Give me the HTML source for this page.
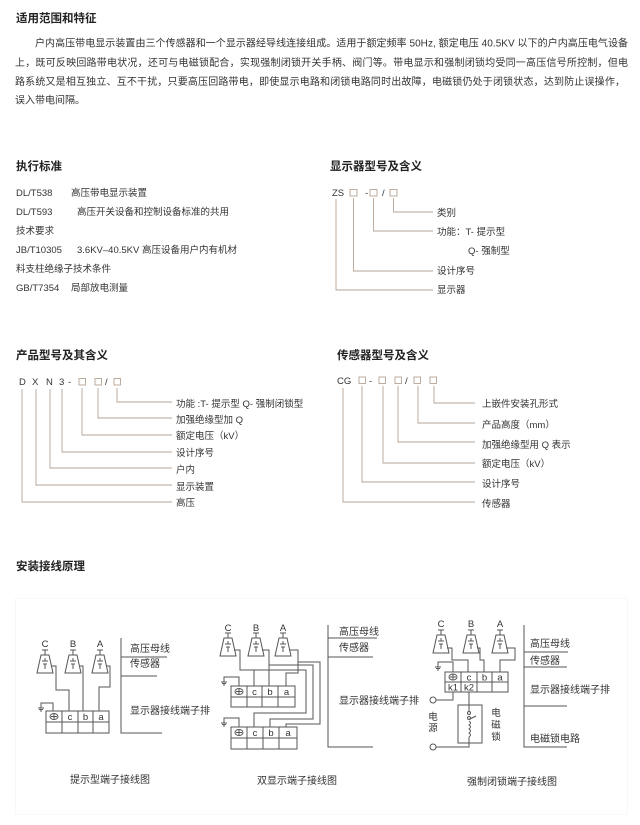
<!DOCTYPE html>
<html><head><meta charset="utf-8"><style>
html,body{margin:0;padding:0;background:#fff;}
svg{display:block;}
text{font-family:"Liberation Sans","Noto Sans CJK SC",sans-serif;fill:#333;}
.t{font-size:11.5px;font-weight:bold;fill:#222;}
.p{font-size:10px;}
.s{font-size:9.5px;}
.ln{stroke:#b5a594;stroke-width:0.9;fill:none;}
.d{stroke:#555;stroke-width:1;fill:none;}
</style></head><body>
<svg width="640" height="825" viewBox="0 0 640 825" xmlns="http://www.w3.org/2000/svg">
<!-- Section 1 -->
<text class="t" x="16" y="22">适用范围和特征</text>
<text class="p" x="35" y="46.5" textLength="593" lengthAdjust="spacing">户内高压带电显示装置由三个传感器和一个显示器经导线连接组成。适用于额定频率 50Hz, 额定电压 40.5KV 以下的户内高压电气设备</text>
<text class="p" x="15" y="66" textLength="613" lengthAdjust="spacing">上，既可反映回路带电状况，还可与电磁锁配合，实现强制闭锁开关手柄、阀门等。带电显示和强制闭锁均受同一高压信号所控制，但电</text>
<text class="p" x="15" y="85" textLength="610" lengthAdjust="spacing">路系统又是相互独立、互不干扰，只要高压回路带电，即使显示电路和闭锁电路同时出故障，电磁锁仍处于闭锁状态，达到防止误操作，</text>
<text class="p" x="15" y="103.5">误入带电间隔。</text>

<!-- Section 2 left -->
<text class="t" x="16" y="170">执行标准</text>
<text class="s" x="16" y="196">DL/T538</text><text class="s" x="71" y="196">高压带电显示装置</text>
<text class="s" x="16" y="215">DL/T593</text><text class="s" x="77" y="215">高压开关设备和控制设备标准的共用</text>
<text class="s" x="16" y="234">技术要求</text>
<text class="s" x="16" y="253">JB/T10305</text><text class="s" x="77" y="253">3.6KV–40.5KV 高压设备用户内有机材</text>
<text class="s" x="16" y="272">料支柱绝缘子技术条件</text>
<text class="s" x="16" y="291">GB/T7354</text><text class="s" x="71" y="291">局部放电测量</text>

<!-- Section 2 right -->
<text class="t" x="330" y="170">显示器型号及含义</text>
<text class="s" x="332" y="196">ZS</text>
<rect x="350" y="189.5" width="7" height="6.5" class="ln"/>
<text class="s" x="365" y="196">-</text>
<rect x="370" y="189.5" width="7" height="6.5" class="ln"/>
<text class="s" x="382" y="196">/</text>
<rect x="390" y="189.5" width="7" height="6.5" class="ln"/>
<path class="ln" d="M336 199V290H433 M353.5 198V271H433 M373.5 198V231H433 M393.5 198V212H433"/>
<text class="s" x="437" y="216">类别</text>
<text class="s" x="437" y="235">功能：T- 提示型</text>
<text class="s" x="468" y="254">Q- 强制型</text>
<text class="s" x="437" y="274">设计序号</text>
<text class="s" x="437" y="293">显示器</text>

<!-- Section 3 left -->
<text class="t" x="16" y="359">产品型号及其含义</text>
<text class="s" x="19" y="385">D</text>
<text class="s" x="32" y="385">X</text>
<text class="s" x="46" y="385">N</text>
<text class="s" x="59" y="385">3</text>
<text class="s" x="68" y="385">-</text>
<text class="s" x="105" y="385">/</text>
<rect x="79" y="378.5" width="6.5" height="6.5" class="ln"/>
<rect x="95" y="378.5" width="6.5" height="6.5" class="ln"/>
<rect x="114" y="378.5" width="6.5" height="6.5" class="ln"/>
<path class="ln" d="M22 389V502H172 M36 389V485H172 M50 389V468H172 M62 389V452H172 M82 388V435H172 M98 388V418H172 M117 388V402H172"/>
<text class="s" x="176" y="407">功能 :T- 提示型 Q- 强制闭锁型</text>
<text class="s" x="176" y="423">加强绝缘型加 Q</text>
<text class="s" x="176" y="439">额定电压（kV）</text>
<text class="s" x="176" y="456">设计序号</text>
<text class="s" x="176" y="473">户内</text>
<text class="s" x="176" y="490">显示装置</text>
<text class="s" x="176" y="506">高压</text>

<!-- Section 3 right -->
<text class="t" x="337" y="359">传感器型号及含义</text>
<text class="s" x="337" y="384">CG</text>
<rect x="359" y="377" width="6.5" height="6.5" class="ln"/>
<text class="s" x="369" y="384">-</text>
<rect x="379" y="377" width="6.5" height="6.5" class="ln"/>
<rect x="395" y="377" width="6.5" height="6.5" class="ln"/>
<text class="s" x="405" y="384">/</text>
<rect x="414" y="377" width="6.5" height="6.5" class="ln"/>
<rect x="430" y="377" width="6.5" height="6.5" class="ln"/>
<path class="ln" d="M343 388V502H475 M362 386V482H475 M383 386V463H475 M398 386V442H475 M418 386V423H475 M434 386V403H475"/>
<text class="s" x="482" y="407">上嵌件安装孔形式</text>
<text class="s" x="482" y="428">产品高度（mm）</text>
<text class="s" x="482" y="448">加强绝缘型用 Q 表示</text>
<text class="s" x="482" y="467">额定电压（kV）</text>
<text class="s" x="482" y="487">设计序号</text>
<text class="s" x="482" y="507">传感器</text>

<!-- Section 4 -->
<text class="t" x="16" y="570">安装接线原理</text>
<rect x="15.5" y="598.5" width="612" height="216" fill="none" stroke="#f8f8f8" stroke-width="1"/>

<defs>
<g id="sen">
<path class="d" d="M-3 -1H3 M0 -1V4 M-4 4H4L8 22H-8Z M0 7V10 M-3 10H3 M-2 13H2 M0 13V18"/>
</g>
<g id="gnd"><path class="d" d="M-3 0H3 M-2 1.5H2 M-1 3H1"/></g>
</defs>

<!-- Diagram 1 -->
<g>
<text class="s" x="45" y="647" text-anchor="middle">C</text>
<text class="s" x="73" y="647" text-anchor="middle">B</text>
<text class="s" x="100" y="647" text-anchor="middle">A</text>
<use href="#sen" x="45" y="651"/><use href="#sen" x="73" y="651"/><use href="#sen" x="100" y="651"/>
<path class="d" d="M51 666H56V690H69V711 M79 666H83V711 M106 666H110V687H99V711"/>
<rect class="d" x="46" y="711" width="63" height="22"/>
<path class="d" d="M46 722H109 M62 711V733 M78 711V733 M93 711V733"/>
<ellipse class="d" cx="54" cy="716.5" rx="4" ry="3"/><path class="d" d="M51 716.5H57 M54 714V719"/>
<text class="s" x="70" y="720" text-anchor="middle">c</text>
<text class="s" x="85.5" y="720" text-anchor="middle">b</text>
<text class="s" x="101" y="720" text-anchor="middle">a</text>
<path class="d" d="M53 711V703H41V708"/><use href="#gnd" x="41" y="708"/>
<path class="d" d="M121 638V733H162 M121 657H167 M121 676H157"/>
<text class="p" x="130" y="652">高压母线</text>
<text class="p" x="130" y="667">传感器</text>
<text class="p" x="130" y="714">显示器接线端子排</text>
<text class="p" x="70" y="783">提示型端子接线图</text>
</g>

<!-- Diagram 2 -->
<g>
<text class="s" x="228" y="631" text-anchor="middle">C</text>
<text class="s" x="256" y="631" text-anchor="middle">B</text>
<text class="s" x="283" y="631" text-anchor="middle">A</text>
<use href="#sen" x="228" y="634"/><use href="#sen" x="256" y="634"/><use href="#sen" x="283" y="634"/>
<path class="d" d="M234 650H240V670H254V686 M240 670H306V713H254V727"/>
<path class="d" d="M262 650H269V686 M269 665H313V719H270V727"/>
<path class="d" d="M289 650H298V673H286V686 M298 662H320V724H286V727"/>
<rect class="d" x="231" y="686" width="64" height="21"/>
<path class="d" d="M231 697H295 M247 686V707 M262 686V707 M278 686V707"/>
<ellipse class="d" cx="239" cy="691.5" rx="4" ry="3"/><path class="d" d="M236 691.5H242 M239 689V694"/>
<text class="s" x="254.5" y="695" text-anchor="middle">c</text>
<text class="s" x="270" y="695" text-anchor="middle">b</text>
<text class="s" x="286.5" y="695" text-anchor="middle">a</text>
<path class="d" d="M239 686V677H224V682"/><use href="#gnd" x="224" y="682"/>
<rect class="d" x="231" y="727" width="66" height="22"/>
<path class="d" d="M231 738H297 M247 727V749 M263 727V749 M279 727V749"/>
<ellipse class="d" cx="239" cy="732.5" rx="4" ry="3"/><path class="d" d="M236 732.5H242 M239 730V735"/>
<text class="s" x="255" y="736" text-anchor="middle">c</text>
<text class="s" x="271" y="736" text-anchor="middle">b</text>
<text class="s" x="288" y="736" text-anchor="middle">a</text>
<path class="d" d="M239 727V718H224V723"/><use href="#gnd" x="224" y="723"/>
<path class="d" d="M328 625V747H373 M328 638H377 M328 657H373"/>
<text class="p" x="339" y="635">高压母线</text>
<text class="p" x="339" y="651">传感器</text>
<text class="p" x="339" y="704">显示器接线端子排</text>
<text class="p" x="257" y="784">双显示端子接线图</text>
</g>

<!-- Diagram 3 -->
<g>
<text class="s" x="441" y="627" text-anchor="middle">C</text>
<text class="s" x="471" y="627" text-anchor="middle">B</text>
<text class="s" x="500" y="627" text-anchor="middle">A</text>
<use href="#sen" x="441" y="631"/><use href="#sen" x="471" y="631"/><use href="#sen" x="500" y="631"/>
<path class="d" d="M447 648H452V660H468V672 M477 648H480V660H484V672 M506 648H515V660H500V672"/>
<rect class="d" x="445" y="672" width="63" height="20"/>
<path class="d" d="M445 682H508 M461 672V692 M477 672V692 M492 672V692"/>
<ellipse class="d" cx="453" cy="677" rx="4" ry="3"/><path class="d" d="M450 677H456 M453 674.5V679.5"/>
<text class="s" x="469" y="680.5" text-anchor="middle">c</text>
<text class="s" x="484.5" y="680.5" text-anchor="middle">b</text>
<text class="s" x="500" y="680.5" text-anchor="middle">a</text>
<text class="s" x="453" y="690.5" text-anchor="middle">k1</text>
<text class="s" x="469" y="690.5" text-anchor="middle">k2</text>
<path class="d" d="M453 672V662H438V667"/><use href="#gnd" x="438" y="667"/>
<path class="d" d="M453 692V700H436"/><circle class="d" cx="433" cy="700" r="3"/>
<rect class="d" x="458" y="705" width="24" height="38"/>
<path class="d" d="M469 692V711.5 M469 719.5 L476 716 M469 721 q3 2 0 4 q3 2 0 4 q3 2 0 4 q3 2 0 4 M469 737V747H436"/>
<circle class="d" cx="469" cy="713" r="1.5"/><circle class="d" cx="469" cy="718" r="1.5"/>
<circle class="d" cx="433" cy="747" r="3"/>
<text class="s" x="433" y="720" text-anchor="middle">电</text>
<text class="s" x="433" y="731" text-anchor="middle">源</text>
<text class="s" x="496" y="716" text-anchor="middle">电</text>
<text class="s" x="496" y="728" text-anchor="middle">磁</text>
<text class="s" x="496" y="740" text-anchor="middle">锁</text>
<path class="d" d="M524 625V747H567 M524 652H568 M524 667H567 M524 706H567"/>
<text class="p" x="530" y="647">高压母线</text>
<text class="p" x="530" y="664">传感器</text>
<text class="p" x="530" y="693">显示器接线端子排</text>
<text class="p" x="530" y="742">电磁锁电路</text>
<text class="p" x="467" y="785">强制闭锁端子接线图</text>
</g>
</svg>
</body></html>
